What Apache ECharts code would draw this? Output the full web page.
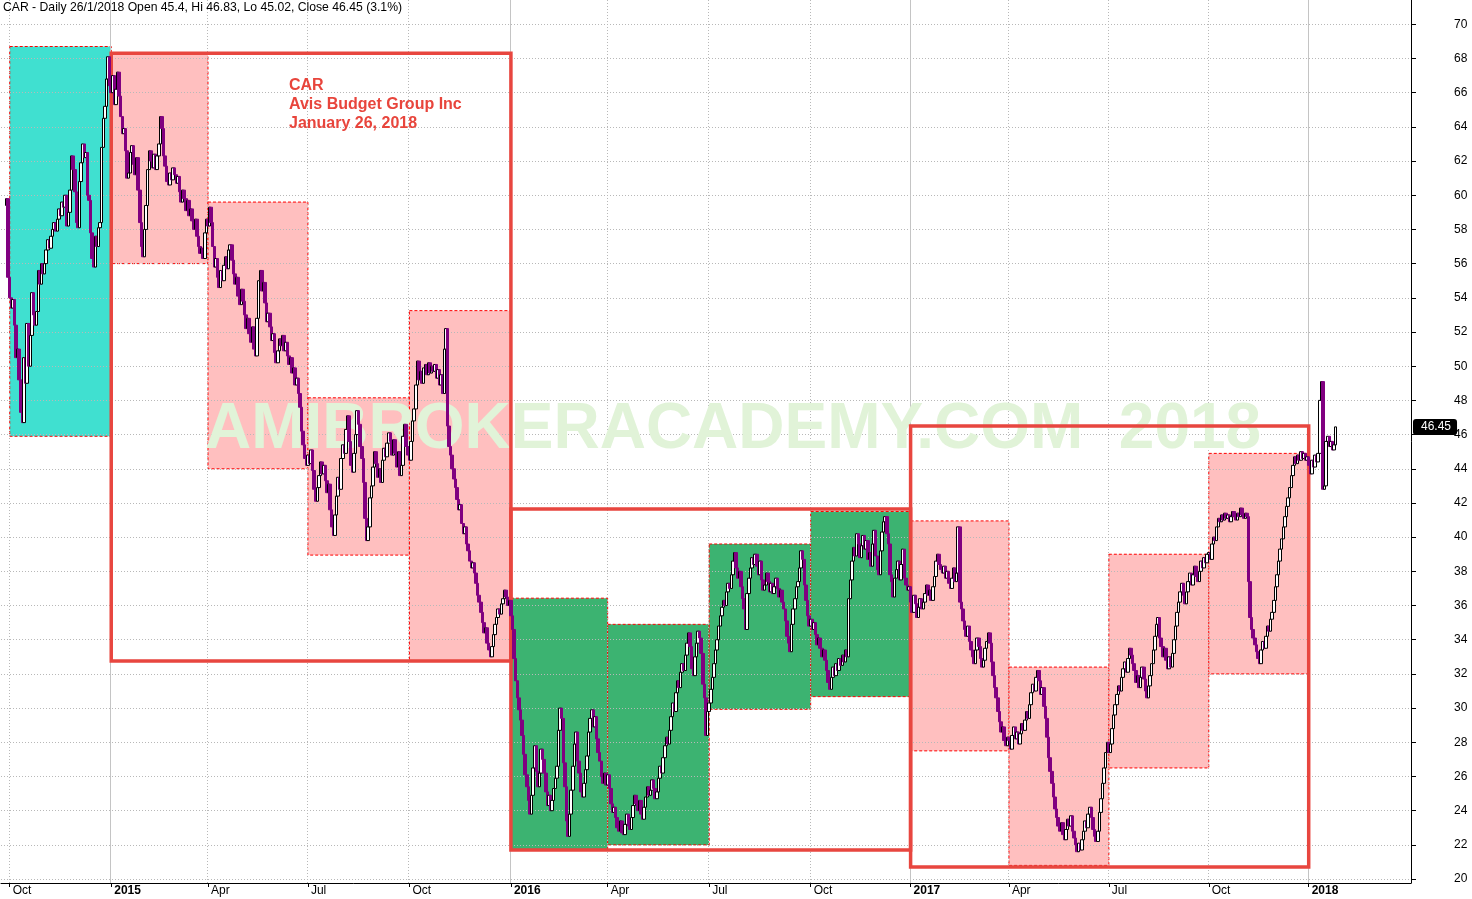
<!DOCTYPE html>
<html><head><meta charset="utf-8">
<script src="https://cdn.jsdelivr.net/npm/echarts@6.0.0/dist/echarts.min.js"></script>
<style>html,body{margin:0;padding:0;background:#fff}#c{width:1472px;height:899px}</style>
</head><body><div id="c"></div>
<script>
// ---- daily closes (open of each day = previous close) ----
const firstOpen = 59.4;
const preCloses = [59.8, 55.2]; // 29-30 Sep 2014
const q4_2014 = [54.0,53.4,53.9,52.4,50.5,51.0,49.2,47.3,46.7,50.5,
49.0,52.5,50.0,51.8,54.3,53.0,52.4,53.2,55.6,54.8,
56.0,55.4,56.0,56.8,57.4,56.9,57.6,58.0,58.4,57.9,
58.6,59.2,58.8,59.6,59.3,60.0,58.2,59.0,60.3,62.3,
61.5,60.2,58.4,58.1,60.8,61.9,63.0,62.2,62.5,60.0,
59.7,57.8,56.3,55.8,57.6,57.0,58.1,58.4,62.8,64.5,
65.2,66.8,68.1,66.4];
const q1_2015 = [66.0,67.0,65.3,66.2,67.2,65.8,64.6,63.6,63.9,62.6,
61.0,61.3,62.5,62.9,61.8,61.2,62.2,60.3,58.4,57.0,
56.4,58.0,59.4,61.5,62.6,62.0,61.6,62.4,61.5,62.3,
63.0,64.6,63.9,62.3,61.7,60.8,60.6,61.3,60.9,61.6,
61.2,60.7,61.1,60.2,59.6,60.3,59.8,59.1,59.7,58.8,
59.2,58.5,58.0,58.6,57.6,57.0,56.6,56.9,56.3,57.8,
58.6];
const q2_2015 = [58.2,59.3,58.4,57.0,55.8,56.3,55.2,54.6,55.6,55.0,
55.9,56.4,55.7,56.8,57.1,56.2,55.4,54.8,55.2,54.1,
53.6,54.5,53.8,53.0,52.2,52.8,51.9,51.4,52.3,51.0,
50.6,52.8,55.0,55.6,54.4,54.9,53.7,52.6,53.1,52.3,
51.5,51.9,50.8,50.2,50.9,51.6,51.2,51.8,50.9,51.4,
50.6,50.1,50.5,49.6,49.9,48.9,49.3,48.4,47.6,46.2,
45.4,44.6,44.2];
const q3_2015 = [44.8,44.3,45.1,43.9,42.8,42.1,42.9,43.6,44.4,43.7,
44.2,43.3,42.6,43.1,41.6,40.6,40.1,41.3,42.4,43.5,
42.8,44.6,45.4,44.9,46.3,47.1,45.6,44.2,43.8,44.9,
46.0,47.4,46.6,45.3,44.6,43.2,41.1,39.8,40.6,42.3,
43.0,44.1,45.0,44.3,43.5,44.0,43.2,44.5,45.2,44.7,
45.5,46.1,45.6,44.8,45.7,44.9,44.1,45.0,43.6,44.2,
45.9,46.6,45.3,44.8];
const q4_2015 = [44.5,45.6,46.8,47.5,48.9,50.3,49.2,49.7,49.0,49.9,
50.1,49.5,50.2,49.6,50.0,49.7,50.1,49.3,49.8,48.9,
49.5,48.4,51.0,52.2,46.5,45.3,44.8,44.0,43.4,42.9,
42.2,41.6,41.9,40.8,40.2,40.6,39.6,39.2,38.6,38.2,
38.5,37.9,37.3,36.6,36.2,35.6,35.0,34.4,34.7,33.8,
33.4,33.0,33.6,34.3,34.9,35.3,35.8,35.5,36.1,36.4,
36.9,36.5,36.0,36.3];
const q1_2016 = [35.4,34.6,32.9,31.6,30.6,29.9,29.3,28.4,27.3,26.1,
25.4,24.6,23.8,24.9,26.5,27.8,26.3,25.4,26.2,27.6,
27.0,26.2,25.1,24.3,24.9,24.0,24.6,25.3,25.9,26.6,
28.7,30.0,29.4,26.8,25.4,23.4,22.5,23.8,25.2,26.6,
27.9,28.6,26.9,26.2,25.1,24.8,25.6,26.4,27.2,28.6,
29.4,29.9,28.9,29.5,28.2,27.4,26.9,26.0,25.6,26.2,
25.5];
const q2_2016 = [26.1,25.3,24.4,23.9,24.2,23.6,23.0,22.8,23.4,22.7,
22.6,23.2,23.8,23.1,22.9,23.6,24.3,24.9,24.4,24.0,
24.6,23.8,23.5,24.2,24.8,25.4,24.9,25.2,25.8,25.3,
24.7,25.1,25.9,26.6,26.2,27.1,27.8,28.3,27.9,28.7,
29.5,30.3,29.8,30.9,31.6,31.2,32.1,32.6,32.2,33.1,
33.8,34.4,33.6,32.3,31.9,33.0,33.8,34.5,34.1,33.2,
31.4,30.6,28.4,29.8];
const q3_2016 = [30.3,31.1,31.8,32.6,33.4,34.0,34.8,35.4,35.9,36.3,
36.0,36.8,37.3,37.0,37.8,38.6,39.1,38.2,37.6,38.0,
37.1,36.4,35.8,34.6,36.7,37.6,38.2,38.8,38.4,39.0,
38.3,37.8,38.6,37.5,36.9,37.2,37.9,37.4,36.8,37.3,
36.7,37.1,37.6,37.0,36.5,36.9,36.2,35.8,35.1,34.2,
33.8,33.3,34.9,35.8,36.4,37.1,37.4,38.2,39.2,38.7,
37.2,36.3,35.4,34.8];
const q4_2016 = [35.2,34.6,35.0,34.3,33.7,34.1,33.5,33.0,33.4,32.8,
32.2,31.5,31.1,31.8,32.4,31.9,32.6,32.2,32.9,32.5,
33.1,32.7,33.4,33.0,36.4,37.5,38.6,39.4,38.9,40.2,
39.6,38.8,39.5,40.1,39.3,39.8,38.7,39.1,38.3,39.6,
40.4,38.9,38.1,37.8,39.2,40.3,40.9,41.2,40.2,39.6,
37.8,37.4,36.5,37.6,38.1,38.6,37.5,38.4,39.3,37.6,
37.2,36.9,37.1];
const q1_2017 = [36.2,35.6,36.6,36.1,35.3,35.9,36.4,35.8,36.2,36.7,
37.2,36.6,36.9,36.3,37.1,37.7,38.6,39.0,38.4,38.1,
37.9,38.3,37.6,38.0,37.3,37.0,37.6,38.2,37.4,37.9,
40.6,36.2,35.8,35.1,34.6,34.2,34.8,33.9,33.4,33.0,
32.6,33.4,34.1,33.6,32.9,32.4,32.8,33.5,33.9,34.4,
33.8,32.7,31.9,31.2,30.6,29.8,29.2,28.6,28.9,28.1,
27.8,28.3];
const q2_2017 = [28.1,27.6,28.4,28.9,28.2,28.6,27.9,28.5,29.1,28.7,
29.3,29.8,29.4,30.2,30.9,31.4,31.0,31.8,32.2,31.6,
30.8,31.2,30.1,29.4,28.3,27.1,26.3,25.6,24.8,24.1,
23.6,23.1,22.8,23.3,22.6,22.3,22.9,23.5,23.1,23.7,
22.8,22.4,22.0,21.6,22.1,21.7,22.3,22.8,23.4,23.0,
23.8,24.2,23.6,22.9,22.5,22.2,22.8,23.9,24.7,25.6,
26.5,27.4,28.0];
const q3_2017 = [27.4,27.9,28.8,29.6,30.2,30.8,31.3,31.0,31.8,32.3,
32.7,32.1,32.9,33.5,33.1,32.6,32.2,31.5,31.9,31.2,
31.8,32.4,31.7,31.0,30.6,31.3,31.9,32.6,33.4,34.2,
34.9,35.3,34.1,33.6,33.0,33.5,32.8,32.3,33.0,32.4,
33.2,34.0,34.8,35.6,36.2,36.8,37.3,36.6,36.1,36.8,
37.4,37.9,37.2,37.8,38.3,37.7,37.4,38.0,38.6,38.2,
38.8,38.5,39.0];
const q4_2017 = [39.1,38.7,39.6,40.0,39.8,40.6,41.1,40.9,41.3,41.0,
41.4,41.1,41.3,40.9,41.2,41.5,41.2,41.0,41.4,41.2,
41.7,41.3,41.1,41.4,41.2,37.4,35.3,34.6,34.1,33.7,
33.3,32.9,32.6,33.4,33.9,33.5,34.2,34.8,34.5,35.2,
35.6,36.3,37.1,37.8,38.6,39.3,39.9,40.6,41.2,41.8,
42.3,42.9,43.6,44.2,44.7,44.3,44.8,44.5,45.0,44.6,
44.9,44.5,44.7];
const jan_2018 = [44.2,43.7,44.5,44.1,44.8,44.4,44.9,48.0,49.1,42.8,
43.0,45.6,45.9,45.3,45.6,45.1,45.4,46.45];

const quarterLabels = ['Oct','2015','Apr','Jul','Oct','2016','Apr','Jul','Oct','2017','Apr','Jul','Oct','2018'];
const quarterIsYear = [false,true,false,false,false,true,false,false,false,true,false,false,false,true];
const leadBlankDays = 3;
const trailBlankDays = 47;

// quarter range boxes (high / low of each quarter)
const boxHigh = [68.7, 68.3, 59.6, 48.15, 53.25, 36.43, 34.9, 39.6, 41.5, 40.95, 32.4, 39.0, 44.9];
const boxLow  = [45.9, 56.0, 44.0, 38.95, 32.75, 21.7, 22.0, 29.93, 30.67, 27.5, 20.8, 26.5, 32.0];
const boxKind = ['cyan','pink','pink','pink','pink','green','green','green','green','pink','pink','pink','pink'];
// yearly range boxes
const yearFromQuarter = [1, 5, 9];
const yearToQuarter = [5, 9, 13];
const yearHigh = [68.3, 41.65, 46.5];
const yearLow  = [32.75, 21.7, 20.7];

const lastPrice = 46.45;
const yMin = 19.77, yMax = 71.42;

const kindColor = {cyan: '#40E0D0', pink: '#FFBFBF', green: '#3CB371'};

// ---- build category axis and OHLC ----
const quarterCloses = [q4_2014,q1_2015,q2_2015,q3_2015,q4_2015,q1_2016,q2_2016,q3_2016,q4_2016,q1_2017,q2_2017,q3_2017,q4_2017,jan_2018];
const cats = [], ohlc = [], qStart = [];
for (let i = 0; i < leadBlankDays; i++) { cats.push('lead' + i); ohlc.push(['-','-','-','-']); }
let prev = firstOpen;
function pushDay(name, c) {
  cats.push(name);
  ohlc.push([prev, c, Math.min(prev, c), Math.max(prev, c)]);
  prev = c;
}
preCloses.forEach((c, i) => pushDay('pre' + i, c));
quarterCloses.forEach((arr, q) => {
  qStart.push(cats.length);
  arr.forEach((c, k) => pushDay('q' + q + '_' + k, c));
});
qStart.push(cats.length);
for (let i = 0; i < trailBlankDays; i++) { cats.push('fut' + i); ohlc.push(['-','-','-','-']); }

const labelAt = {};
quarterLabels.forEach((l, q) => { labelAt[qStart[q]] = {text: l, year: quarterIsYear[q]}; });
const isQ = i => labelAt[i] !== undefined;
const isQnotYear = i => labelAt[i] !== undefined && !labelAt[i].year;
const isYear = i => labelAt[i] !== undefined && labelAt[i].year;

const quarterAreas = boxHigh.map((h, q) => [
  {xAxis: cats[qStart[q]], yAxis: h, itemStyle: {color: kindColor[boxKind[q]], borderColor: '#ff0000', borderWidth: 1, borderType: [3, 2]}},
  {xAxis: cats[qStart[q + 1]], yAxis: boxLow[q]}
]);
const yearAreas = yearHigh.map((h, y) => [
  {xAxis: cats[qStart[yearFromQuarter[y]]], yAxis: h},
  {xAxis: cats[qStart[yearToQuarter[y]]], yAxis: yearLow[y]}
]);

const FONT = '"Liberation Sans", Arial, sans-serif';
const chart = echarts.init(document.getElementById('c'), null, {renderer: 'canvas'});
chart.setOption({
  animation: false,
  backgroundColor: '#ffffff',
  grid: {left: 1, right: 61, top: 0, bottom: 16, containLabel: false},
  xAxis: [{
    type: 'category', data: cats, boundaryGap: true, z: 2,
    axisLine: {show: true, lineStyle: {color: '#000', width: 1}},
    axisTick: {show: true, alignWithLabel: true, length: 4, interval: (i) => isQ(i), lineStyle: {color: '#000'}},
    axisLabel: {
      show: true, interval: (i) => isQ(i), margin: 2, align: 'left', padding: [0, 0, 0, 3],
      fontFamily: FONT, fontSize: 12, color: '#000',
      formatter: (v, i) => labelAt[i] ? (labelAt[i].year ? '{b|' + labelAt[i].text + '}' : '{n|' + labelAt[i].text + '}') : '',
      rich: {b: {fontWeight: 'bold', fontSize: 12, fontFamily: FONT, color: '#000'}, n: {fontSize: 12, fontFamily: FONT, color: '#000'}}
    },
    splitLine: {show: true, interval: (i) => isQnotYear(i), lineStyle: {color: '#b8b8b8', type: [1, 2], width: 1}}
  }, {
    type: 'category', data: cats, boundaryGap: true, gridIndex: 0, position: 'bottom', z: 2,
    axisLine: {show: false}, axisTick: {show: false}, axisLabel: {show: false},
    splitLine: {show: true, interval: (i) => isYear(i), lineStyle: {color: '#c4c4c4', type: 'solid', width: 1}}
  }],
  yAxis: {
    type: 'value', position: 'right', min: yMin, max: yMax, splitNumber: 26, z: 2,
    axisLine: {show: true, lineStyle: {color: '#000', width: 1}},
    axisTick: {show: true, length: 5, lineStyle: {color: '#000'}},
    axisLabel: {
      show: true, margin: 43, fontFamily: FONT, fontSize: 12, color: '#000',
      showMinLabel: false, showMaxLabel: false,
      formatter: (v) => (Math.abs(v % 2) < 1e-9 ? String(v) : '')
    },
    splitLine: {show: true, showMinLine: false, showMaxLine: false, lineStyle: {color: '#b8b8b8', type: [1, 2], width: 1}},
    axisPointer: {
      show: true, value: lastPrice, status: 'show', snap: false, triggerTooltip: false,
      lineStyle: {opacity: 0, width: 0},
      label: {show: true, backgroundColor: '#000', color: '#fff', fontFamily: FONT, fontSize: 12, padding: [2, 6, 2, 8], margin: 2,
        formatter: () => lastPrice.toFixed(2)}
    }
  },
  series: [{
    type: 'line', data: [], silent: true, xAxisIndex: 0,
    markArea: {silent: true, z: 1, data: quarterAreas}
  }, {
    type: 'line', data: [], silent: true, xAxisIndex: 0,
    markArea: {silent: true, z: 4, itemStyle: {color: 'rgba(0,0,0,0)', borderColor: '#E8463F', borderWidth: 3.5}, data: yearAreas}
  }, {
    type: 'candlestick', data: ohlc, xAxisIndex: 0, z: 5, barWidth: 3, large: false, silent: true,
    itemStyle: {color: '#ffffff', color0: '#800080', borderColor: '#000000', borderColor0: '#800080', borderColorDoji: '#000000', borderWidth: 1}
  }],
  graphic: {elements: [
    {type: 'text', x: 205, y: 430, z: 3, silent: true,
      style: {text: 'AMIBROKERACADEMY.COM  2018', font: 'bold 64px ' + FONT, fill: '#E1F3D8', align: 'left', verticalAlign: 'middle', textAlign: 'left', textVerticalAlign: 'middle'}},
    {type: 'text', x: 3, y: 8, z: 10, silent: true,
      style: {text: 'CAR - Daily 26/1/2018 Open 45.4, Hi 46.83, Lo 45.02, Close 46.45 (3.1%)', font: '12.2px ' + FONT, fill: '#000', align: 'left', verticalAlign: 'middle', textAlign: 'left', textVerticalAlign: 'middle'}},
    {type: 'text', x: 289, y: 86, z: 10, silent: true,
      style: {text: 'CAR', font: 'bold 16px ' + FONT, fill: '#E8453C', align: 'left', verticalAlign: 'middle', textAlign: 'left', textVerticalAlign: 'middle'}},
    {type: 'text', x: 289, y: 105, z: 10, silent: true,
      style: {text: 'Avis Budget Group Inc', font: 'bold 16px ' + FONT, fill: '#E8453C', align: 'left', verticalAlign: 'middle', textAlign: 'left', textVerticalAlign: 'middle'}},
    {type: 'text', x: 289, y: 124, z: 10, silent: true,
      style: {text: 'January 26, 2018', font: 'bold 16px ' + FONT, fill: '#E8453C', align: 'left', verticalAlign: 'middle', textAlign: 'left', textVerticalAlign: 'middle'}}
  ]}
});
</script>
</body></html>
